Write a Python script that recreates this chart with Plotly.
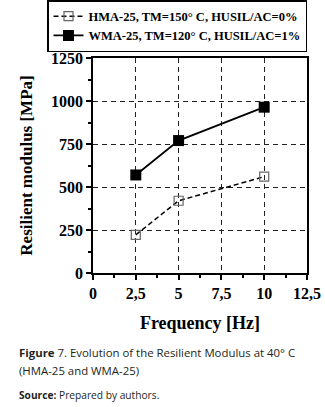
import plotly.graph_objects as go

freq = [2.5, 5, 10]
hma = [222, 420, 560]
wma = [570, 770, 964]
hma_name = "HMA-25, TM=150° C, HUSIL/AC=0%"
wma_name = "WMA-25, TM=120° C, HUSIL/AC=1%"

serif = "Liberation Serif"
W, H = 325, 407
ML, MR, MT, MB = 93, 18, 58, 134
PW, PH = W - ML - MR, H - MT - MB


def py(y):
    return (H - MB - y) / PH


def px(x):
    return (x - ML) / PW


fig = go.Figure()
fig.add_trace(go.Scatter(
    x=freq, y=hma, name=hma_name, mode="lines+markers",
    line=dict(color="black", width=1.5, dash="5px,3px"),
    marker=dict(symbol="square-open", size=9, color="#666666", line=dict(width=1.2)),
))
fig.add_trace(go.Scatter(
    x=freq, y=wma, name=wma_name, mode="lines+markers",
    line=dict(color="black", width=1.8),
    marker=dict(symbol="square", size=11, color="black"),
))

axis_common = dict(
    showline=True, linecolor="black", linewidth=1.8, mirror=True,
    ticks="outside", ticklen=5, tickwidth=1.5, tickcolor="black",
    showgrid=True, gridcolor="#222222", griddash="5px,4px", gridwidth=1,
    zeroline=False, automargin=False,
    tickfont=dict(family=serif, size=16, color="black", weight="bold"),
)
fig.update_xaxes(
    range=[0, 12.5], tickmode="linear", tick0=0, dtick=2.5,
    title=dict(text="Frequency [Hz]", font=dict(family=serif, size=18, color="black", weight="bold"), standoff=15),
    minor=dict(dtick=1.25, tick0=0, ticks="outside", ticklen=3, tickwidth=1.5, tickcolor="black", showgrid=False),
    **axis_common,
)
fig.update_yaxes(
    range=[0, 1250], tickmode="linear", tick0=0, dtick=250,
    title=dict(text="Resilient modulus [MPa]", font=dict(family=serif, size=17, color="black", weight="bold"), standoff=14),
    minor=dict(dtick=125, tick0=0, ticks="outside", ticklen=3, tickwidth=1.5, tickcolor="black", showgrid=False),
    **axis_common,
)
cap_font = dict(family="Open Sans", size=11.4, color="#231f20")
fig.update_layout(
    width=W, height=H,
    separators=",.",
    margin=dict(l=ML, r=MR, t=MT, b=MB, autoexpand=False),
    plot_bgcolor="white", paper_bgcolor="white",
    showlegend=True,
    legend=dict(
        x=177 / W, xanchor="center", xref="container",
        y=1, yanchor="top", yref="container",
        bordercolor="black", borderwidth=1.5, bgcolor="white",
        font=dict(family=serif, size=12.5, color="black", weight="bold"),
        tracegroupgap=0, itemwidth=30,
    ),
    annotations=[
        dict(text="<b>Figure</b> 7. Evolution of the Resilient Modulus at 40° C",
             xref="paper", yref="paper", x=px(17), y=py(352), xanchor="left", yanchor="middle",
             showarrow=False, align="left", font=cap_font),
        dict(text="(HMA-25 and WMA-25)",
             xref="paper", yref="paper", x=px(17), y=py(370), xanchor="left", yanchor="middle",
             showarrow=False, align="left", font=cap_font),
        dict(text="<b>Source:</b> Prepared by authors.",
             xref="paper", yref="paper", x=px(17), y=py(395), xanchor="left", yanchor="middle",
             showarrow=False, align="left",
             font=dict(family="Open Sans", size=10.2, color="#231f20")),
    ],
)
fig.write_html("out.html", config={"displayModeBar": False},
               post_script="document.body.style.margin='0px';")
